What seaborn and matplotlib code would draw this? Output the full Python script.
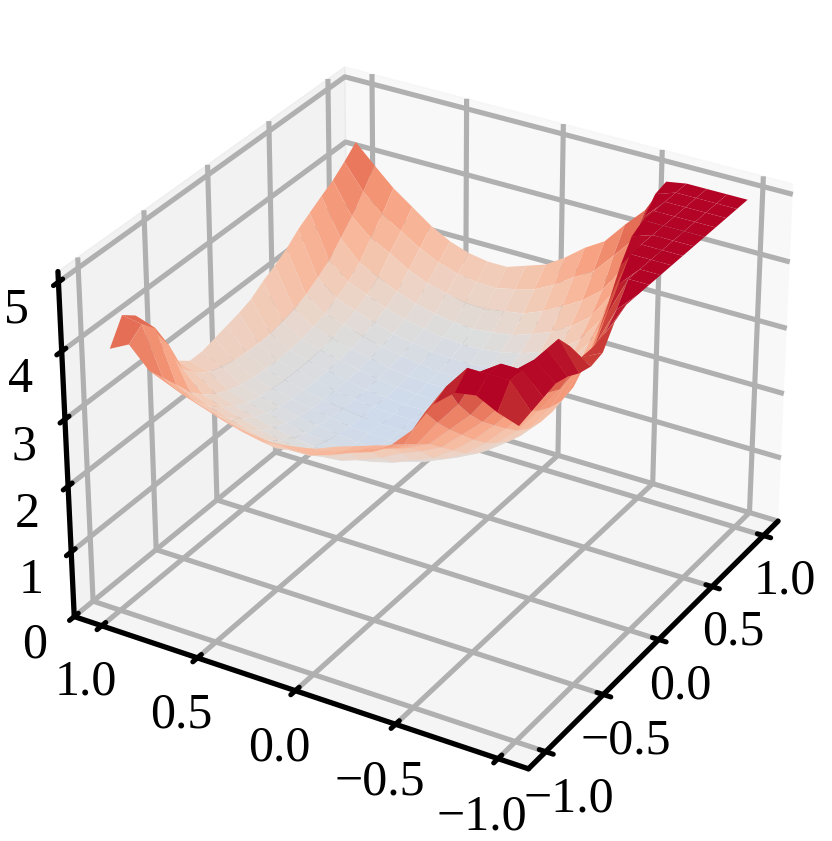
import numpy as np
import matplotlib
matplotlib.use('Agg')
import matplotlib.pyplot as plt
import seaborn as sns

# grid positions on both horizontal axes
x_vals = [-1.0, -0.9, -0.8, -0.7, -0.6, -0.5, -0.4, -0.3, -0.2, -0.1, 0.0,
          0.1, 0.2, 0.3, 0.4, 0.5, 0.6, 0.7, 0.8, 0.9, 1.0]
y_vals = x_vals

# surface heights, first row y=-1, last row y=1
z_vals = [
    [4.6, 4.65, 4.7, 4.75, 4.7, 4.6, 4.55, 4.6, 4.9, 5, 5, 5, 5, 5, 5, 5, 5, 5, 5, 5, 5],
    [4.7, 5, 5, 5, 5, 5, 4.75, 4.45, 4.45, 4.5, 4.7, 5, 5, 5, 5, 5, 5, 5, 5, 5, 5],
    [4.85, 5, 5, 4.75, 4.5, 4.25, 4.0, 3.9, 3.95, 3.97, 4.1, 4.4, 4.7, 5, 5, 5, 5, 5, 5, 5, 5],
    [4.8, 5, 4.8, 4.35, 4.05, 3.85, 3.65, 3.5, 3.4, 3.35, 3.4, 3.6, 3.85, 4.2, 4.6, 4.9, 5, 5, 5, 5, 5],
    [4.55, 4.65, 4.25, 3.95, 3.7, 3.5, 3.3, 3.12, 3.0, 2.95, 2.95, 3.0, 3.1, 3.25, 3.45, 3.7, 4.0, 4.4, 4.7, 4.9, 4.95],
    [4.1, 4.2, 3.9, 3.65, 3.42, 3.2, 3.0, 2.85, 2.72, 2.65, 2.62, 2.64, 2.7, 2.8, 2.95, 3.15, 3.35, 3.6, 3.85, 4.15, 4.45],
    [3.8, 3.65, 3.5, 3.35, 3.15, 2.95, 2.75, 2.6, 2.5, 2.44, 2.42, 2.43, 2.47, 2.55, 2.65, 2.8, 2.97, 3.18, 3.44, 3.82, 4.15],
    [3.6, 3.5, 3.35, 3.2, 3.0, 2.75, 2.58, 2.45, 2.37, 2.33, 2.32, 2.33, 2.36, 2.42, 2.5, 2.62, 2.76, 2.95, 3.2, 3.5, 3.82],
    [3.5, 3.4, 3.3, 3.15, 2.88, 2.62, 2.45, 2.35, 2.29, 2.26, 2.26, 2.27, 2.29, 2.33, 2.4, 2.5, 2.62, 2.78, 3.03, 3.33, 3.64],
    [3.38, 3.28, 3.2, 3.0, 2.72, 2.5, 2.36, 2.29, 2.24, 2.22, 2.22, 2.22, 2.24, 2.27, 2.32, 2.41, 2.51, 2.66, 2.87, 3.13, 3.41],
    [3.28, 3.2, 3.1, 2.85, 2.6, 2.42, 2.3, 2.25, 2.22, 2.2, 2.2, 2.2, 2.21, 2.24, 2.28, 2.35, 2.44, 2.56, 2.75, 2.98, 3.22],
    [3.28, 3.15, 2.98, 2.72, 2.5, 2.36, 2.27, 2.22, 2.2, 2.2, 2.2, 2.2, 2.21, 2.23, 2.26, 2.32, 2.4, 2.52, 2.7, 2.9, 3.12],
    [3.3, 3.1, 2.88, 2.64, 2.47, 2.35, 2.27, 2.23, 2.21, 2.2, 2.2, 2.2, 2.21, 2.23, 2.26, 2.32, 2.39, 2.48, 2.65, 2.83, 3.02],
    [3.33, 3.05, 2.81, 2.63, 2.49, 2.38, 2.3, 2.26, 2.23, 2.22, 2.22, 2.22, 2.23, 2.25, 2.29, 2.34, 2.41, 2.5, 2.66, 2.84, 3.02],
    [3.39, 3.11, 2.87, 2.68, 2.53, 2.42, 2.34, 2.3, 2.27, 2.26, 2.25, 2.25, 2.27, 2.29, 2.33, 2.39, 2.46, 2.55, 2.72, 2.89, 3.07],
    [3.48, 3.19, 2.94, 2.75, 2.59, 2.48, 2.4, 2.35, 2.32, 2.3, 2.3, 2.3, 2.32, 2.35, 2.39, 2.44, 2.52, 2.62, 2.8, 2.98, 3.17],
    [3.58, 3.29, 3.03, 2.83, 2.67, 2.55, 2.46, 2.41, 2.38, 2.37, 2.36, 2.37, 2.38, 2.41, 2.46, 2.53, 2.61, 2.72, 2.92, 3.12, 3.33],
    [3.68, 3.39, 3.13, 2.92, 2.76, 2.63, 2.54, 2.48, 2.45, 2.43, 2.43, 2.43, 2.45, 2.49, 2.55, 2.63, 2.73, 2.86, 3.1, 3.3, 3.54],
    [3.8, 3.55, 3.3, 3.05, 2.86, 2.73, 2.63, 2.57, 2.53, 2.51, 2.5, 2.51, 2.53, 2.58, 2.64, 2.74, 2.85, 3.01, 3.25, 3.48, 3.75],
    [4.1, 4.25, 4.05, 3.65, 3.15, 2.95, 2.82, 2.75, 2.7, 2.68, 2.67, 2.68, 2.72, 2.77, 2.85, 2.97, 3.1, 3.3, 3.5, 3.75, 4.02],
    [3.95, 4.3, 4.15, 3.85, 3.45, 3.05, 2.9, 2.9, 2.95, 3.0, 3.05, 3.12, 3.25, 3.35, 3.47, 3.63, 3.75, 3.87, 3.98, 4.13, 4.3],
]

xy_ticks = [-1.0, -0.5, 0.0, 0.5, 1.0]
z_ticks = [0, 1, 2, 3, 4, 5]

sns.set_style('white')
plt.rcParams['font.family'] = ['Liberation Serif', 'DejaVu Serif']
plt.rcParams['axes.edgecolor'] = 'black'
plt.rcParams['axes.linewidth'] = 3.8
plt.rcParams['grid.color'] = '#b0b0b0'
plt.rcParams['grid.linewidth'] = 3.7
plt.rcParams['xtick.major.width'] = 3.6
plt.rcParams['ytick.major.width'] = 3.6
plt.rcParams['xtick.color'] = 'black'
plt.rcParams['ytick.color'] = 'black'
plt.rcParams['font.size'] = 36

fig = plt.figure(figsize=(8.32, 8.41), dpi=100)
ax = fig.add_axes([5 / 832, 8 / 841, 1, 1], projection='3d')
ax.view_init(elev=30, azim=-149.3)

X, Y = np.meshgrid(x_vals, y_vals)
Z = np.array(z_vals)
cmap = sns.color_palette('coolwarm', as_cmap=True)
ax.plot_surface(X, Y, Z, cmap=cmap, vmin=0, vmax=4.9, rstride=1, cstride=1,
                linewidth=0, antialiased=True)

ax.set_zlim(0, 5.15)
ax.set_xticks(xy_ticks)
ax.set_yticks(xy_ticks)
ax.set_zticks(z_ticks)
ax.tick_params(axis='x', labelsize=36, pad=7)
ax.tick_params(axis='y', labelsize=36, pad=10)
ax.tick_params(axis='z', labelsize=36, pad=9)
for axis in (ax.xaxis, ax.yaxis, ax.zaxis):
    axis._axinfo['tick']['inward_factor'] = 0.2
    axis._axinfo['tick']['outward_factor'] = 0.17
ax.set_box_aspect(None, zoom=0.98)

fig.savefig('out.png', dpi=100)
